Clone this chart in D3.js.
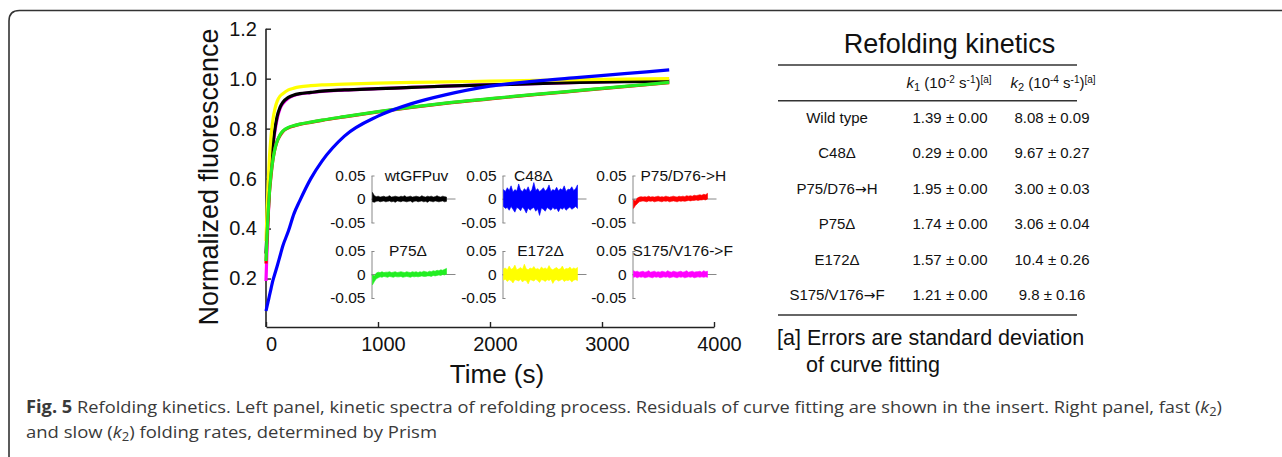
<!DOCTYPE html>
<html>
<head>
<meta charset="utf-8">
<script src="https://d3js.org/d3.v7.min.js"></script>
<style>
  body { margin: 0; background: #fff; }
  svg { display: block; }
  text { font-family: "Liberation Sans", Arial, sans-serif; fill: #111; }
  text.caption { font-family: "Open Sans", sans-serif; fill: #3a3a3a; }
</style>
</head>
<body>
<script>
// ---- data ----
var times      = [0, 10, 20, 30, 45, 60, 80, 100, 125, 150, 200, 250, 300, 400, 500, 700, 1000, 1300, 1600, 2000, 2400, 2800, 3200, 3600];
var wtValues   = [0.30, 0.40, 0.49, 0.57, 0.66, 0.73, 0.80, 0.85, 0.885, 0.905, 0.925, 0.935, 0.94, 0.945, 0.95, 0.955, 0.96, 0.965, 0.97, 0.975, 0.98, 0.985, 0.988, 0.99];
var s175Values = [0.19, 0.33, 0.45, 0.55, 0.65, 0.72, 0.79, 0.84, 0.88, 0.90, 0.922, 0.933, 0.939, 0.944, 0.949, 0.954, 0.96, 0.965, 0.97, 0.975, 0.98, 0.985, 0.989, 0.992];
var e172Values = [0.35, 0.48, 0.59, 0.68, 0.77, 0.83, 0.88, 0.91, 0.93, 0.94, 0.955, 0.962, 0.967, 0.972, 0.975, 0.978, 0.982, 0.985, 0.987, 0.99, 0.993, 0.996, 0.998, 1.0];
var p75d76Values = [0.26, 0.37, 0.46, 0.54, 0.61, 0.67, 0.72, 0.75, 0.772, 0.788, 0.803, 0.811, 0.817, 0.825, 0.833, 0.847, 0.867, 0.885, 0.901, 0.919, 0.936, 0.952, 0.968, 0.984];
var p75Values  = [0.27, 0.38, 0.47, 0.54, 0.62, 0.67, 0.72, 0.75, 0.775, 0.79, 0.805, 0.812, 0.818, 0.826, 0.834, 0.848, 0.868, 0.886, 0.902, 0.92, 0.937, 0.953, 0.969, 0.985];
var c48Values  = [0.07, 0.09, 0.11, 0.13, 0.16, 0.19, 0.22, 0.25, 0.29, 0.33, 0.39, 0.46, 0.51, 0.60, 0.67, 0.77, 0.85, 0.90, 0.935, 0.97, 0.99, 1.005, 1.02, 1.035];

var xTicks = [0, 1000, 2000, 3000, 4000];
var yTicks = [0.2, 0.4, 0.6, 0.8, 1.0, 1.2];

// residuals of the fits (insets): upper / lower edge of the noise band
var residNames  = ["wtGFPuv", "C48\u0394", "P75/D76->H", "P75\u0394", "E172\u0394", "S175/V176->F"];
var residColors = ["#000000", "#0000ff", "#ff0000", "#22ee22", "#ffff00", "#ff00ff"];
var residTicks  = [-0.05, 0, 0.05];

var wtHi   = [0.014,0.007,0.005,0.006,0.004,0.005,0.006,0.004,0.005,0.007,0.004,0.005,0.006,0.005,0.004,0.006,0.005,0.007,0.004,0.005,0.006,0.004,0.005,0.006,0.005,0.004,0.007,0.005,0.004,0.006,0.005,0.006,0.004,0.005,0.007,0.005,0.004,0.006,0.005,0.004];
var wtLo   = [-0.006,-0.007,-0.005,-0.004,-0.006,-0.005,-0.004,-0.006,-0.005,-0.004,-0.006,-0.005,-0.007,-0.004,-0.005,-0.006,-0.004,-0.005,-0.006,-0.005,-0.004,-0.007,-0.005,-0.004,-0.006,-0.005,-0.004,-0.006,-0.005,-0.007,-0.004,-0.005,-0.006,-0.004,-0.005,-0.006,-0.005,-0.004,-0.006,-0.005];
var c48Hi  = [0.02,0.016,0.024,0.018,0.028,0.015,0.02,0.017,0.032,0.019,0.016,0.022,0.018,0.026,0.015,0.02,0.035,0.018,0.022,0.016,0.019,0.024,0.017,0.021,0.03,0.016,0.02,0.018,0.025,0.017,0.022,0.019,0.028,0.016,0.021,0.02,0.026,0.018,0.022,0.03];
var c48Lo  = [-0.016,-0.02,-0.018,-0.024,-0.016,-0.022,-0.028,-0.018,-0.02,-0.025,-0.017,-0.022,-0.03,-0.019,-0.024,-0.02,-0.018,-0.026,-0.021,-0.035,-0.019,-0.022,-0.026,-0.018,-0.021,-0.024,-0.018,-0.022,-0.02,-0.027,-0.019,-0.022,-0.018,-0.024,-0.02,-0.017,-0.022,-0.019,-0.016,-0.02];
var p75d76Hi = [-0.002,-0.004,0.002,0.004,0.005,0.004,0.005,0.004,0.006,0.004,0.005,0.004,0.005,0.006,0.004,0.005,0.004,0.006,0.005,0.004,0.005,0.006,0.005,0.004,0.006,0.005,0.006,0.005,0.007,0.006,0.007,0.006,0.008,0.007,0.008,0.009,0.008,0.01,0.009,0.012];
var p75d76Lo = [-0.02,-0.014,-0.01,-0.006,-0.005,-0.004,-0.005,-0.006,-0.004,-0.005,-0.004,-0.006,-0.005,-0.004,-0.005,-0.006,-0.004,-0.005,-0.004,-0.006,-0.005,-0.004,-0.005,-0.006,-0.004,-0.005,-0.004,-0.005,-0.004,-0.003,-0.004,-0.003,-0.003,-0.002,-0.003,-0.002,-0.002,-0.001,-0.002,0.0];
var p75Hi  = [-0.001,-0.003,0.003,0.005,0.004,0.006,0.004,0.005,0.005,0.006,0.004,0.005,0.006,0.004,0.005,0.006,0.005,0.004,0.006,0.005,0.004,0.006,0.005,0.006,0.004,0.006,0.005,0.007,0.006,0.005,0.007,0.006,0.008,0.007,0.009,0.008,0.01,0.009,0.011,0.013];
var p75Lo  = [-0.022,-0.015,-0.009,-0.007,-0.005,-0.006,-0.004,-0.005,-0.006,-0.004,-0.005,-0.006,-0.004,-0.005,-0.005,-0.004,-0.006,-0.005,-0.004,-0.005,-0.006,-0.004,-0.005,-0.004,-0.005,-0.004,-0.003,-0.004,-0.004,-0.003,-0.003,-0.004,-0.002,-0.003,-0.002,-0.001,-0.002,0.0,-0.001,0.001];
var e172Hi = [0.012,0.014,0.01,0.018,0.011,0.013,0.02,0.01,0.012,0.015,0.011,0.022,0.012,0.01,0.014,0.012,0.017,0.011,0.013,0.01,0.016,0.012,0.014,0.011,0.019,0.012,0.01,0.013,0.015,0.011,0.012,0.018,0.01,0.013,0.012,0.016,0.011,0.014,0.012,0.015];
var e172Lo = [-0.012,-0.01,-0.015,-0.011,-0.013,-0.018,-0.011,-0.012,-0.014,-0.01,-0.016,-0.012,-0.013,-0.02,-0.011,-0.012,-0.014,-0.01,-0.013,-0.017,-0.011,-0.012,-0.015,-0.011,-0.013,-0.01,-0.019,-0.012,-0.011,-0.014,-0.012,-0.01,-0.015,-0.012,-0.013,-0.011,-0.016,-0.012,-0.011,-0.013];
var s175Hi = [0.008,0.006,0.007,0.005,0.006,0.007,0.005,0.006,0.008,0.005,0.006,0.007,0.005,0.006,0.005,0.007,0.006,0.005,0.008,0.006,0.005,0.007,0.006,0.005,0.006,0.007,0.005,0.006,0.008,0.005,0.006,0.007,0.005,0.006,0.006,0.007,0.005,0.008,0.006,0.007];
var s175Lo = [-0.006,-0.005,-0.007,-0.005,-0.006,-0.005,-0.007,-0.006,-0.005,-0.006,-0.007,-0.005,-0.006,-0.005,-0.007,-0.006,-0.005,-0.006,-0.005,-0.007,-0.006,-0.005,-0.006,-0.007,-0.005,-0.006,-0.005,-0.007,-0.006,-0.005,-0.006,-0.005,-0.007,-0.006,-0.005,-0.006,-0.005,-0.006,-0.005,-0.006];

// table
var tableRows = ["Wild type", "C48\u0394", "P75/D76|H", "P75\u0394", "E172\u0394", "S175/V176|F"];
var k1Values  = ["1.39 \u00b1 0.00", "0.29 \u00b1 0.00", "1.95 \u00b1 0.00", "1.74 \u00b1 0.00", "1.57 \u00b1 0.00", "1.21 \u00b1 0.00"];
var k2Values  = ["8.08 \u00b1 0.09", "9.67 \u00b1 0.27", "3.00 \u00b1 0.03", "3.06 \u00b1 0.04", "10.4 \u00b1 0.26", "9.8 \u00b1 0.16"];

// ---- drawing ----
var svg = d3.select("body").append("svg")
    .attr("width", 1282)
    .attr("height", 457);

// figure frame (rounded top-left corner)
svg.append("path")
    .attr("d", "M9,457 L9,21 Q9,10.5 19.5,10.5 L1282,10.5")
    .attr("fill", "none")
    .attr("stroke", "#333")
    .attr("stroke-width", 1.6);

var x = d3.scaleLinear().domain([0, 4000]).range([266, 714]);
var y = d3.scaleLinear().domain([0, 1.2]).range([328.5, 28.7]);

var xAxis = svg.append("g")
    .attr("transform", "translate(0,327)")
    .call(d3.axisBottom(x).tickValues(xTicks).tickFormat(d3.format("d")).tickSizeInner(-5).tickSizeOuter(0).tickPadding(10));
var yAxis = svg.append("g")
    .attr("transform", "translate(266,0)")
    .call(d3.axisLeft(y).tickValues(yTicks).tickFormat(d3.format(".1f")).tickSizeInner(-5).tickSizeOuter(0).tickPadding(9));
yAxis.select(".domain").attr("d", "M0,327V28.7");

[xAxis, yAxis].forEach(function (g) {
  g.select(".domain").attr("stroke", "#222").attr("stroke-width", 1.6);
  g.selectAll(".tick line").attr("stroke", "#222").attr("stroke-width", 1.4);
  g.selectAll(".tick text")
    .style("font-family", "Liberation Sans, Arial, sans-serif")
    .style("font-size", "20px")
    .attr("fill", "#111");
});
xAxis.selectAll(".tick text").attr("dx", 5);

svg.append("text")
    .attr("x", 497)
    .attr("y", 383)
    .attr("text-anchor", "middle")
    .style("font-size", "26px")
    .text("Time (s)");

svg.append("text")
    .attr("transform", "translate(218,177) rotate(-90)")
    .attr("text-anchor", "middle")
    .style("font-size", "27px")
    .text("Normalized fluorescence");

// kinetic traces
var traces = [
  {values: s175Values,   color: "#ff00ff"},
  {values: wtValues,     color: "#000000"},
  {values: e172Values,   color: "#ffff00"},
  {values: p75d76Values, color: "#ff0000"},
  {values: p75Values,    color: "#22ee22"},
  {values: c48Values,    color: "#0000ff"}
];
var line = d3.line()
    .x(function (d) { return x(d[0]); })
    .y(function (d) { return y(d[1]); })
    .curve(d3.curveMonotoneX);

traces.forEach(function (t) {
  svg.append("path")
    .datum(d3.zip(times, t.values))
    .attr("d", line)
    .attr("fill", "none")
    .attr("stroke", t.color)
    .attr("stroke-width", 3.2);
});

// residual insets
var residBands = [[wtHi, wtLo], [c48Hi, c48Lo], [p75d76Hi, p75d76Lo], [p75Hi, p75Lo], [e172Hi, e172Lo], [s175Hi, s175Lo]];
var insetX = [371.5, 502.5, 632.5];
var insetY = [199, 274.5];
var labelDx = [45, 31, 8, 36.5, 38, 0];

residBands.forEach(function (band, i) {
  var ax = insetX[i % 3], zy = insetY[Math.floor(i / 3)];
  var yi = d3.scaleLinear().domain([-0.05, 0.05]).range([zy + 23.5, zy - 23.5]);
  var xi = d3.scaleLinear().domain([0, band[0].length - 1]).range([ax + 1, ax + 75]);
  var g = svg.append("g");

  g.append("line")
    .attr("x1", ax).attr("x2", ax + 84)
    .attr("y1", yi(0)).attr("y2", yi(0))
    .attr("stroke", "#888").attr("stroke-width", 1);

  var ia = g.append("g")
    .attr("transform", "translate(" + ax + ",0)")
    .call(d3.axisLeft(yi).tickValues(residTicks).tickFormat(function (d) { return String(d); })
      .tickSizeInner(-3).tickSizeOuter(0).tickPadding(6));
  ia.select(".domain").attr("stroke", "#888");
  ia.selectAll(".tick line").attr("stroke", "#888");
  ia.selectAll(".tick text")
    .style("font-family", "Liberation Sans, Arial, sans-serif")
    .style("font-size", "15.5px")
    .attr("fill", "#111");

  g.append("path")
    .datum(d3.zip(band[0], band[1]))
    .attr("d", d3.area()
      .x(function (d, j) { return xi(j); })
      .y0(function (d) { return yi(d[1]); })
      .y1(function (d) { return yi(d[0]); }))
    .attr("fill", residColors[i])
    .attr("stroke", residColors[i])
    .attr("stroke-width", 0.6);

  g.append("text")
    .attr("x", ax + labelDx[i])
    .attr("y", zy - 18.5)
    .attr("text-anchor", (i === 2 || i === 5) ? "start" : "middle")
    .style("font-size", "15.5px")
    .text(residNames[i]);
});

// ---- table ----
var tbl = svg.append("g");
tbl.append("text")
    .attr("x", 949.5).attr("y", 53)
    .attr("text-anchor", "middle")
    .style("font-size", "27px")
    .text("Refolding kinetics");

[65, 100.7, 315].forEach(function (ry) {
  tbl.append("line")
    .attr("x1", 778).attr("x2", 1077)
    .attr("y1", ry).attr("y2", ry)
    .attr("stroke", "#333").attr("stroke-width", 1.6);
});

function header(xpos, sub, exp) {
  var t = tbl.append("text").attr("x", xpos).attr("y", 88).style("font-size", "15px");
  t.append("tspan").style("font-style", "italic").text("k");
  t.append("tspan").attr("dy", 3).style("font-size", "11px").text(sub);
  t.append("tspan").attr("dy", -3).text(" (10");
  t.append("tspan").attr("dy", -5).style("font-size", "10px").text(exp);
  t.append("tspan").attr("dy", 5).text(" s");
  t.append("tspan").attr("dy", -5).style("font-size", "10px").text("-1");
  t.append("tspan").attr("dy", 5).text(")");
  t.append("tspan").attr("dy", -5).style("font-size", "10px").text("[a]");
}
header(906.5, "1", "-2");
header(1010.5, "2", "-4");

var rowY = d3.scaleLinear().domain([0, tableRows.length - 1]).range([123, 300]);
tableRows.forEach(function (name, i) {
  var t = tbl.append("text").attr("x", 837).attr("y", rowY(i))
    .attr("text-anchor", "middle").style("font-size", "15px");
  // "|" marks where the arrow goes
  name.split("|").forEach(function (part, j) {
    if (j > 0) t.append("tspan").style("font-family", "DejaVu Sans, sans-serif").style("font-size", "14px").text("\u2192");
    t.append("tspan").text(part);
  });
  tbl.append("text").attr("x", 950).attr("y", rowY(i))
    .attr("text-anchor", "middle").style("font-size", "15px").text(k1Values[i]);
  tbl.append("text").attr("x", 1052).attr("y", rowY(i))
    .attr("text-anchor", "middle").style("font-size", "15px").text(k2Values[i]);
});

tbl.append("text").attr("x", 777).attr("y", 345)
    .style("font-size", "21.5px").text("[a] Errors are standard deviation");
tbl.append("text").attr("x", 806).attr("y", 372)
    .style("font-size", "21.5px").text("of curve fitting");

// ---- caption ----
var cap1 = svg.append("text").attr("class", "caption")
    .attr("x", 26).attr("y", 413)
    .attr("textLength", 1196).attr("lengthAdjust", "spacingAndGlyphs")
    .style("font-size", "17px");
cap1.append("tspan").style("font-weight", "bold").text("Fig. 5");
cap1.append("tspan").text(" Refolding kinetics. Left panel, kinetic spectra of refolding process. Residuals of curve fitting are shown in the insert. Right panel, fast (");
cap1.append("tspan").style("font-style", "italic").text("k");
cap1.append("tspan").attr("dy", 3).style("font-size", "12px").text("2");
cap1.append("tspan").attr("dy", -3).text(")");

var cap2 = svg.append("text").attr("class", "caption")
    .attr("x", 26).attr("y", 438)
    .attr("textLength", 411).attr("lengthAdjust", "spacingAndGlyphs")
    .style("font-size", "17px");
cap2.append("tspan").text("and slow (");
cap2.append("tspan").style("font-style", "italic").text("k");
cap2.append("tspan").attr("dy", 3).style("font-size", "12px").text("2");
cap2.append("tspan").attr("dy", -3).text(") folding rates, determined by Prism");
</script>
</body>
</html>
